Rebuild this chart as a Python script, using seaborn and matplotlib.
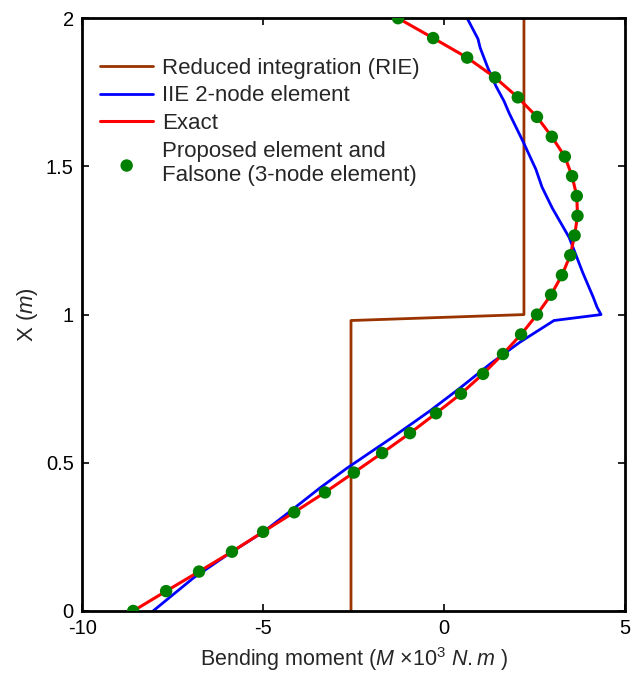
import matplotlib
matplotlib.use('Agg')
import numpy as np
import pandas as pd
import matplotlib.pyplot as plt
import seaborn as sns

# 数据
node_x = [0.0, 0.067, 0.133, 0.2, 0.267, 0.333, 0.4, 0.467, 0.533, 0.6,
          0.667, 0.733, 0.8, 0.867, 0.933, 1.0, 1.067, 1.133, 1.2, 1.267,
          1.333, 1.4, 1.467, 1.533, 1.6, 1.667, 1.733, 1.8, 1.867, 1.933, 2.0]
exact_m = [-8.59, -7.68, -6.77, -5.86, -5.0, -4.14, -3.29, -2.49, -1.71, -0.94,
           -0.22, 0.47, 1.08, 1.63, 2.13, 2.57, 2.96, 3.26, 3.49, 3.61,
           3.69, 3.67, 3.54, 3.34, 2.98, 2.57, 2.04, 1.41, 0.64, -0.30, -1.27]
proposed_m = exact_m

iie_x = [0.0, 0.111, 0.196, 0.266, 0.344, 0.415, 0.482, 0.587, 0.675, 0.752,
         0.833, 0.907, 0.98, 1.0, 1.025, 1.06, 1.14, 1.26, 1.36, 1.43, 1.49,
         1.58, 1.68, 1.72, 1.77, 1.83, 1.90, 1.93, 2.0]
iie_m = [-8.04, -6.93, -5.91, -5.0, -4.17, -3.43, -2.68, -1.41, -0.39, 0.44,
         1.27, 2.10, 3.04, 4.34, 4.23, 4.12, 3.84, 3.46, 2.99, 2.71, 2.54,
         2.2, 1.80, 1.66, 1.44, 1.22, 1.0, 0.94, 0.64]

rie_x = [0.0, 0.98, 1.0, 2.0]
rie_m = [-2.57, -2.57, 2.21, 2.21]

sns.set_style('ticks')
plt.rcParams['font.family'] = ['Liberation Sans', 'DejaVu Sans']
plt.rcParams['mathtext.fontset'] = 'custom'
plt.rcParams['mathtext.rm'] = 'Liberation Sans'
plt.rcParams['mathtext.it'] = 'Liberation Sans:italic'

fig = plt.figure(figsize=(6.37, 6.74), dpi=100)
ax = fig.add_axes([0.129, 0.0935, 0.852, 0.8795])

# 曲线按 y 排列, 不做聚合
line_kw = dict(sort=False, estimator=None, orient='y', ax=ax)
sns.lineplot(x=rie_m, y=rie_x, color='#993300', lw=2.0,
             label='Reduced integration (RIE)', **line_kw)
sns.lineplot(x=iie_m, y=iie_x, color='#0000ff', lw=2.0,
             label='IIE 2-node element', **line_kw)
sns.lineplot(x=exact_m, y=node_x, color='#ff0000', lw=2.2,
             label='Exact', **line_kw)
sns.scatterplot(x=proposed_m, y=node_x, color='#008000', s=80, edgecolor='none',
                ax=ax, zorder=5,
                label='Proposed element and\nFalsone (3-node element)')

ax.set_xlim(-10, 5)
ax.set_ylim(0, 2)
ax.set_xticks([-10, -5, 0, 5])
ax.set_xticklabels(['-10', '-5', '0', '5'])
ax.set_yticks([0, 0.5, 1, 1.5, 2])
ax.set_yticklabels(['0', '0.5', '1', '1.5', '2'])
ax.tick_params(direction='in', top=True, right=True, length=5, width=1.2,
               labelsize=14.5, colors='black', pad=6)
for sp in ax.spines.values():
    sp.set_visible(True)
    sp.set_linewidth(2)
    sp.set_color('black')

ax.set_xlabel(r'Bending moment ($\mathit{M}$ ×10$^3$ $\mathit{N.m}$ )', fontsize=15.5, labelpad=5)
ax.set_ylabel(r'X ($\mathit{m}$)', fontsize=16, labelpad=4)

ax.legend(loc='upper left', bbox_to_anchor=(-0.004, 0.967), frameon=False,
          fontsize=16, handlelength=2.4, handletextpad=0.4,
          labelspacing=0.3, borderaxespad=0.5)

fig.savefig('out.png', dpi=100)
